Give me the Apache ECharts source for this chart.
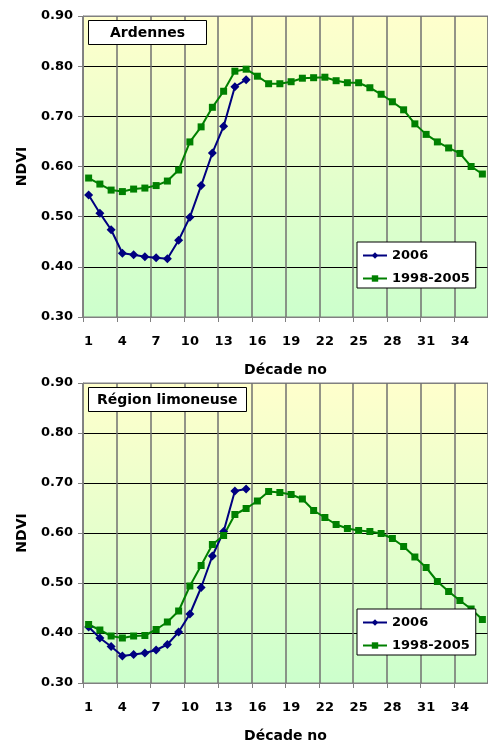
<!DOCTYPE html>
<html>
<head>
<meta charset="utf-8">
<script src="https://cdn.jsdelivr.net/npm/echarts@6/dist/echarts.min.js"></script>
<style>
  html, body { margin: 0; padding: 0; background: #fff; }
  #chart { width: 488px; height: 744px; }
</style>
</head>
<body>
<div id="chart"></div>
<script>
// decade numbers 1..36
const decades = ['1','2','3','4','5','6','7','8','9','10','11','12','13','14','15','16','17','18',
  '19','20','21','22','23','24','25','26','27','28','29','30','31','32','33','34','35','36']

// Ardennes
const ardennes2006 = [0.543, 0.507, 0.474, 0.427, 0.424, 0.420, 0.418, 0.416, 0.453, 0.499,
  0.562, 0.627, 0.680, 0.759, 0.773]
const ardennesMean = [0.577, 0.565, 0.553, 0.550, 0.555, 0.557, 0.562, 0.571, 0.593, 0.649,
  0.679, 0.718, 0.750, 0.790, 0.794, 0.780, 0.765, 0.765, 0.769, 0.776, 0.777, 0.778,
  0.771, 0.767, 0.767, 0.757, 0.744, 0.729, 0.713, 0.685, 0.664, 0.649, 0.637, 0.626,
  0.600, 0.585]

// Région limoneuse
const limon2006 = [0.412, 0.390, 0.373, 0.354, 0.357, 0.360, 0.366, 0.377, 0.402, 0.438,
  0.491, 0.554, 0.603, 0.684, 0.688]
const limonMean = [0.417, 0.406, 0.394, 0.390, 0.394, 0.395, 0.407, 0.422, 0.444, 0.494,
  0.535, 0.577, 0.595, 0.637, 0.649, 0.664, 0.683, 0.681, 0.677, 0.668, 0.645, 0.631,
  0.617, 0.609, 0.605, 0.603, 0.599, 0.589, 0.573, 0.552, 0.531, 0.503, 0.483, 0.465,
  0.448, 0.427]

const seriesNames = ['2006', '1998-2005']
const regionTitles = ['Ardennes', 'Région limoneuse']

const FONT = 'DejaVu Sans'
const AXIS_GRAY = '#808080'

const chart = echarts.init(document.getElementById('chart'))

const plotBg = {
  type: 'linear', x: 0, y: 0, x2: 0, y2: 1,
  colorStops: [
    { offset: 0, color: '#ffffcc' },
    { offset: 1, color: '#ccffcc' },
  ],
}

const gridTops = [16, 383]

const makeX = gridIndex => ({
  type: 'category',
  gridIndex,
  data: decades,
  boundaryGap: true,
  name: 'Décade no',
  nameLocation: 'middle',
  nameGap: 46,
  nameTextStyle: { fontFamily: FONT, fontWeight: 'bold', fontSize: 14, color: '#000' },
  axisLine: { lineStyle: { color: AXIS_GRAY, width: 1 } },
  axisTick: { show: true, interval: 2, length: 5, lineStyle: { color: AXIS_GRAY } },
  axisLabel: {
    interval: 2, margin: 18,
    fontFamily: FONT, fontWeight: 'bold', fontSize: 13, color: '#000',
  },
  splitLine: { show: true, interval: 2, lineStyle: { color: '#707070', width: 1.5 } },
})

const makeY = gridIndex => ({
  type: 'value',
  gridIndex,
  min: 0.3,
  max: 0.9,
  interval: 0.1,
  name: 'NDVI',
  nameLocation: 'middle',
  nameRotate: 90,
  nameGap: 54,
  nameTextStyle: { fontFamily: FONT, fontWeight: 'bold', fontSize: 14, color: '#000' },
  axisLine: { show: true, lineStyle: { color: AXIS_GRAY, width: 1 } },
  axisTick: { show: true, length: 5, lineStyle: { color: AXIS_GRAY } },
  axisLabel: {
    margin: 10,
    formatter: v => v.toFixed(2),
    fontFamily: FONT, fontWeight: 'bold', fontSize: 13, color: '#000',
  },
  splitLine: {
    show: true,
    lineStyle: {
      color: [AXIS_GRAY, '#000', '#000', '#000', '#000', '#000', AXIS_GRAY],
      width: 1,
    },
  },
})

const makeSeries = (gridIndex, recent, mean) => [
  {
    name: seriesNames[0],
    type: 'line',
    xAxisIndex: gridIndex,
    yAxisIndex: gridIndex,
    data: recent,
    symbol: 'diamond',
    symbolSize: 9,
    showAllSymbol: true,
    color: '#000080',
    lineStyle: { width: 2, color: '#000080' },
    itemStyle: { color: '#000080' },
  },
  {
    name: seriesNames[1],
    type: 'line',
    xAxisIndex: gridIndex,
    yAxisIndex: gridIndex,
    data: mean,
    symbol: 'rect',
    symbolSize: 7,
    showAllSymbol: true,
    color: '#008000',
    lineStyle: { width: 2, color: '#008000' },
    itemStyle: { color: '#008000' },
  },
]

const makeLegend = top => ({
  orient: 'vertical',
  left: 357,
  top,
  data: seriesNames,
  itemWidth: 24,
  itemHeight: 8,
  itemGap: 10,
  padding: [7, 6, 3, 5],
  backgroundColor: '#fff',
  borderColor: '#000',
  borderWidth: 1,
  borderRadius: 0,
  selectedMode: false,
  textStyle: { fontFamily: FONT, fontWeight: 'bold', fontSize: 13, color: '#000' },
})

const makeTitle = (text, top, hPad) => ({
  text,
  left: 88,
  top,
  padding: [6, hPad, 5, hPad],
  backgroundColor: '#fff',
  borderColor: '#000',
  borderWidth: 1,
  textStyle: { fontFamily: FONT, fontWeight: 'bold', fontSize: 14, color: '#000' },
})

chart.setOption({
  animation: false,
  title: [
    makeTitle(regionTitles[0], 20, 22),
    makeTitle(regionTitles[1], 387, 9),
  ],
  legend: [makeLegend(242), makeLegend(609)],
  grid: gridTops.map(top => ({
    left: 83,
    top,
    width: 408,
    height: 301,
    show: true,
    backgroundColor: plotBg,
    borderColor: AXIS_GRAY,
    borderWidth: 1,
  })),
  xAxis: [makeX(0), makeX(1)],
  yAxis: [makeY(0), makeY(1)],
  series: [
    ...makeSeries(0, ardennes2006, ardennesMean),
    ...makeSeries(1, limon2006, limonMean),
  ],
})

window.addEventListener('resize', () => chart.resize())
</script>
</body>
</html>
